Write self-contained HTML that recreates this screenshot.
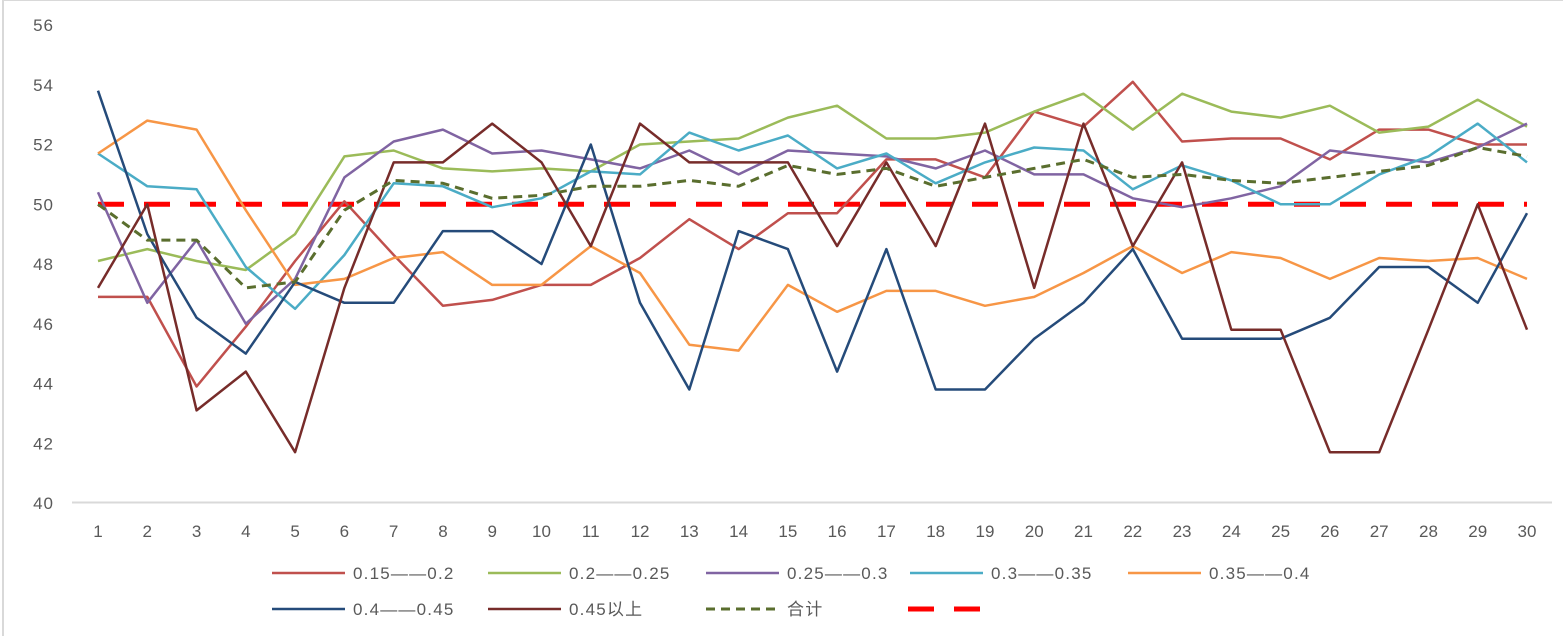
<!DOCTYPE html>
<html><head><meta charset="utf-8"><style>
html,body{margin:0;padding:0;background:#fff;}
svg text{font-family:"Liberation Sans","Noto Sans CJK SC",sans-serif;fill:#595959;}
</style></head><body>
<svg id="chart" width="1563" height="636" xmlns="http://www.w3.org/2000/svg">
<rect x="3" y="0" width="1570" height="640" fill="#fff" stroke="#d9d9d9" stroke-width="2"/>
<g id="axes"></g><g id="series"></g><g id="legend"></g>
</svg>
<script>
const categories=[1,2,3,4,5,6,7,8,9,10,11,12,13,14,15,16,17,18,19,20,21,22,23,24,25,26,27,28,29,30];
const yTicks=[40,42,44,46,48,50,52,54,56];
const s1=[46.9,46.9,43.9,45.9,48.1,50.1,48.3,46.6,46.8,47.3,47.3,48.2,49.5,48.5,49.7,49.7,51.5,51.5,50.9,53.1,52.6,54.1,52.1,52.2,52.2,51.5,52.5,52.5,52.0,52.0];
const s2=[48.1,48.5,48.1,47.8,49.0,51.6,51.8,51.2,51.1,51.2,51.1,52.0,52.1,52.2,52.9,53.3,52.2,52.2,52.4,53.1,53.7,52.5,53.7,53.1,52.9,53.3,52.4,52.6,53.5,52.6];
const s3=[50.4,46.7,48.8,46.0,47.5,50.9,52.1,52.5,51.7,51.8,51.5,51.2,51.8,51.0,51.8,51.7,51.6,51.2,51.8,51.0,51.0,50.2,49.9,50.2,50.6,51.8,51.6,51.4,51.9,52.7];
const s4=[51.7,50.6,50.5,47.9,46.5,48.3,50.7,50.6,49.9,50.2,51.1,51.0,52.4,51.8,52.3,51.2,51.7,50.7,51.4,51.9,51.8,50.5,51.3,50.8,50.0,50.0,51.0,51.6,52.7,51.4];
const s5=[51.7,52.8,52.5,49.8,47.3,47.5,48.2,48.4,47.3,47.3,48.6,47.7,45.3,45.1,47.3,46.4,47.1,47.1,46.6,46.9,47.7,48.6,47.7,48.4,48.2,47.5,48.2,48.1,48.2,47.5];
const s6=[53.8,49.0,46.2,45.0,47.4,46.7,46.7,49.1,49.1,48.0,52.0,46.7,43.8,49.1,48.5,44.4,48.5,43.8,43.8,45.5,46.7,48.5,45.5,45.5,45.5,46.2,47.9,47.9,46.7,49.7];
const s7=[47.2,50.0,43.1,44.4,41.7,47.2,51.4,51.4,52.7,51.4,48.6,52.7,51.4,51.4,51.4,48.6,51.4,48.6,52.7,47.2,52.7,48.6,51.4,45.8,45.8,41.7,41.7,45.8,50.0,45.8];
const total=[50.0,48.8,48.8,47.2,47.4,49.8,50.8,50.7,50.2,50.3,50.6,50.6,50.8,50.6,51.3,51.0,51.2,50.6,50.9,51.2,51.5,50.9,51.0,50.8,50.7,50.9,51.1,51.3,51.9,51.6];
const refLine=[50,50,50,50,50,50,50,50,50,50,50,50,50,50,50,50,50,50,50,50,50,50,50,50,50,50,50,50,50,50];
const seriesNames=["0.15——0.2","0.2——0.25","0.25——0.3","0.3——0.35","0.35——0.4","0.4——0.45","0.45以上","合计",""];

const NS="http://www.w3.org/2000/svg";
function x(i){return 98+i*(1429/29);}
function y(v){return 503-(v-40)*29.875;}
function mk(tag,attrs,parent){const e=document.createElementNS(NS,tag);for(const k in attrs)e.setAttribute(k,attrs[k]);parent.appendChild(e);return e;}
const axes=document.getElementById('axes'),sg=document.getElementById('series'),lg=document.getElementById('legend');
const axisLine=mk('line',{x1:72,x2:1552,y1:502.5,y2:502.5,stroke:'#d9d9d9','stroke-width':2},axes);


yTicks.forEach(t=>{const e=mk('text',{x:54,y:y(t)+6,'text-anchor':'end','font-size':17,'letter-spacing':1},axes);e.textContent=t;

});
categories.forEach((c,i)=>{const e=mk('text',{x:x(i),y:537,'text-anchor':'middle','font-size':17},axes);e.textContent=c;

});
const styles=[
{d:s1,c:'#c0504d',w:2.5,dash:''},{d:s2,c:'#9bbb59',w:2.5,dash:''},{d:s3,c:'#8064a2',w:2.5,dash:''},
{d:s4,c:'#4bacc6',w:2.5,dash:''},{d:s5,c:'#f79646',w:2.5,dash:''},{d:s6,c:'#254b7a',w:2.5,dash:''},
{d:s7,c:'#772c2a',w:2.5,dash:''},{d:total,c:'#5a6e2e',w:3,dash:'9,6'},{d:refLine,c:'#ff0000',w:5,dash:'26,20'}];
[8,0,1,2,3,4,5,6,7].forEach(k=>{const s=styles[k];const pts=s.d.map((v,i)=>x(i).toFixed(1)+','+y(v).toFixed(1)).join(' ');
const p=mk('polyline',{points:pts,fill:'none',stroke:s.c,'stroke-width':s.w,'stroke-dasharray':s.dash,'stroke-linejoin':'round'},sg);

});
const legPos=[[272,573],[488,573],[706,573],[910,573],[1128,573],[272,609],[488,609],[706,609],[908,609]];
styles.forEach((s,k)=>{const [lx,ly]=legPos[k];
const g=mk('g',{},lg);


mk('line',{x1:lx,x2:lx+73,y1:ly,y2:ly,stroke:s.c,'stroke-width':k==8?5:(k==7?3:2.5),'stroke-dasharray':s.dash},g);
if(seriesNames[k]){const t=mk('text',{x:lx+81,y:ly+6,'font-size':17,'letter-spacing':1.2},g);t.textContent=seriesNames[k];}
});
</script>
</body></html>
